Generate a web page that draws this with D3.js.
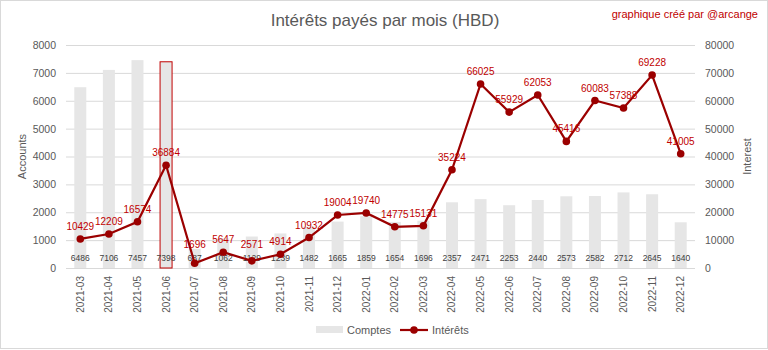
<!DOCTYPE html>
<html>
<head>
<meta charset="utf-8">
<script src="https://cdn.jsdelivr.net/npm/d3@7"></script>
<style>
  body { margin: 0; background: #fff; }
  text { font-family: "Liberation Sans Narrow", "Liberation Sans", sans-serif; }
</style>
</head>
<body>
<div id="chart"></div>
<script>
const months = ["2021-03","2021-04","2021-05","2021-06","2021-07","2021-08","2021-09","2021-10","2021-11","2021-12",
  "2022-01","2022-02","2022-03","2022-04","2022-05","2022-06","2022-07","2022-08","2022-09","2022-10","2022-11","2022-12"];
const comptes = [6486,7106,7457,7398,687,1062,1129,1239,1482,1665,1859,1654,1696,2357,2471,2253,2440,2573,2582,2712,2645,1640];
const interets = [10429,12209,16574,36884,1696,5647,2571,4914,10932,19004,19740,14775,15131,35224,66025,55929,62053,45416,60083,57388,69228,41005];
const leftTicks = [0,1000,2000,3000,4000,5000,6000,7000,8000];
const rightTicks = [0,10000,20000,30000,40000,50000,60000,70000,80000];
const highlight = "2021-06";

const width = 768, height = 350;
const margin = { top: 45, right: 73, bottom: 82, left: 66 };
const innerW = width - margin.left - margin.right;
const innerH = height - margin.top - margin.bottom;

const svg = d3.select("#chart").append("svg")
  .attr("width", width).attr("height", height);

// outer frame
svg.append("rect")
  .attr("x", 0.5).attr("y", 0.5)
  .attr("width", width - 1).attr("height", height - 2)
  .attr("fill", "#fff").attr("stroke", "#d9d9d9");

const g = svg.append("g").attr("transform", `translate(${margin.left},${margin.top})`);

const x = d3.scaleBand().domain(months).range([0, innerW]);
const yL = d3.scaleLinear().domain([0, 8000]).range([innerH, 0]);
const yR = d3.scaleLinear().domain([0, 80000]).range([innerH, 0]);

// gridlines
g.selectAll(".grid").data(leftTicks).enter().append("line")
  .attr("x1", 0).attr("x2", innerW)
  .attr("y1", d => yL(d) + 0.5).attr("y2", d => yL(d) + 0.5)
  .attr("stroke", "#d9d9d9").attr("stroke-width", 1);

// left axis
const axL = g.append("g").call(d3.axisLeft(yL).tickValues(leftTicks).tickFormat(d3.format("d")).tickSize(0).tickPadding(10));
axL.select(".domain").remove();
axL.selectAll("text").attr("fill", "#595959").style("font-size", "10.5px");

// right axis
const axR = g.append("g").attr("transform", `translate(${innerW},0)`)
  .call(d3.axisRight(yR).tickValues(rightTicks).tickFormat(d3.format("d")).tickSize(0).tickPadding(10));
axR.select(".domain").remove();
axR.selectAll("text").attr("fill", "#595959").style("font-size", "10.5px");

// x axis
const axX = g.append("g").attr("transform", `translate(0,${innerH})`)
  .call(d3.axisBottom(x).tickSize(0));
axX.select(".domain").remove();
axX.selectAll("text")
  .attr("fill", "#595959").style("font-size", "10px")
  .attr("transform", "rotate(-90)")
  .attr("text-anchor", "end")
  .attr("x", -8).attr("y", 0).attr("dy", "0.35em");

// bars
const bw = 12;
g.selectAll(".bar").data(months).enter().append("rect")
  .attr("x", (d) => x(d) + x.bandwidth() / 2 - bw / 2)
  .attr("width", bw)
  .attr("y", (d, i) => yL(comptes[i]))
  .attr("height", (d, i) => innerH - yL(comptes[i]))
  .attr("fill", "#e6e6e6")
  .attr("stroke", d => d === highlight ? "#c00000" : "none")
  .attr("stroke-width", 1);

// bar labels
g.selectAll(".blab").data(months).enter().append("text")
  .attr("x", d => x(d) + x.bandwidth() / 2)
  .attr("y", innerH - 7)
  .attr("text-anchor", "middle")
  .attr("fill", "#404040")
  .style("font-size", "8.5px")
  .text((d, i) => comptes[i]);

// line
const line = d3.line()
  .x((d, i) => x(months[i]) + x.bandwidth() / 2)
  .y(d => yR(d));
g.append("path").datum(interets)
  .attr("fill", "none").attr("stroke", "#9b0000").attr("stroke-width", 2.2)
  .attr("d", line);

g.selectAll(".pt").data(interets).enter().append("circle")
  .attr("cx", (d, i) => x(months[i]) + x.bandwidth() / 2)
  .attr("cy", d => yR(d))
  .attr("r", 3.8)
  .attr("fill", "#9b0000");

// keep point labels clear of the bar labels at the bottom
g.selectAll(".plab").data(interets).enter().append("text")
  .attr("x", (d, i) => x(months[i]) + x.bandwidth() / 2)
  .attr("y", d => Math.min(yR(d) - 9, innerH - 20))
  .attr("text-anchor", "middle")
  .attr("fill", "#c00000")
  .style("font-size", "10px")
  .text(d => d);

// titles
svg.append("text")
  .attr("x", 385).attr("y", 26)
  .attr("text-anchor", "middle")
  .attr("fill", "#595959")
  .style("font-size", "17px")
  .text("Intérêts payés par mois (HBD)");

svg.append("text")
  .attr("x", 758).attr("y", 18)
  .attr("text-anchor", "end")
  .attr("fill", "#c00000")
  .style("font-size", "11px")
  .text("graphique créé par @arcange");

svg.append("text")
  .attr("transform", `translate(26,${margin.top + innerH / 2}) rotate(-90)`)
  .attr("text-anchor", "middle")
  .attr("fill", "#595959")
  .style("font-size", "11px")
  .text("Accounts");

svg.append("text")
  .attr("transform", `translate(751,${margin.top + innerH / 2}) rotate(-90)`)
  .attr("text-anchor", "middle")
  .attr("fill", "#595959")
  .style("font-size", "11px")
  .text("Interest");

// legend
const lg = svg.append("g").attr("transform", "translate(316,330)");
lg.append("rect").attr("x", 0).attr("y", -4).attr("width", 27).attr("height", 7).attr("fill", "#e6e6e6");
lg.append("text").attr("x", 31).attr("y", 0).attr("dy", "0.35em")
  .attr("fill", "#595959").style("font-size", "11px").text("Comptes");
lg.append("line").attr("x1", 84).attr("x2", 112).attr("y1", 0).attr("y2", 0)
  .attr("stroke", "#9b0000").attr("stroke-width", 2.2);
lg.append("circle").attr("cx", 98).attr("cy", 0).attr("r", 3.8).attr("fill", "#9b0000");
lg.append("text").attr("x", 116).attr("y", 0).attr("dy", "0.35em")
  .attr("fill", "#595959").style("font-size", "11px").text("Intérêts");
</script>
</body>
</html>
